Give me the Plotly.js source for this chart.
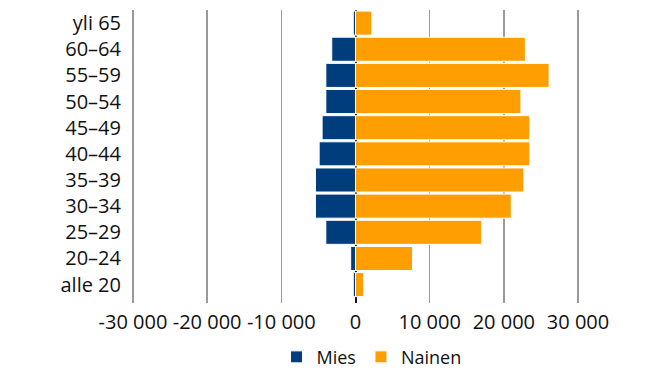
<!DOCTYPE html>
<html>
<head>
<meta charset="utf-8">
<script src="https://cdn.plot.ly/plotly-3.0.1.min.js"></script>
<style>html,body{margin:0;padding:0;background:#fff;}#chart{width:667px;height:374px;}</style>
</head>
<body>
<div id="chart"></div>
<script>
var categories = ["alle 20", "20–24", "25–29", "30–34", "35–39", "40–44", "45–49", "50–54", "55–59", "60–64", "yli 65"];
var mies = [-300, -650, -4000, -5400, -5400, -4900, -4500, -4000, -4000, -3200, -300];
var nainen = [1100, 7700, 17000, 21000, 22700, 23500, 23500, 22300, 26100, 22900, 2200];
var tickVals = [-30000, -20000, -10000, 0, 10000, 20000, 30000];
var tickText = ["-30 000", "-20 000", "-10 000", "0", "10 000", "20 000", "30 000"];

var font = {family: "Open Sans, Noto Sans, sans-serif", size: 20, color: "#111"};

var traces = [
  {type: "bar", orientation: "h", name: "Mies", y: categories, x: mies,
   marker: {color: "#003d7c", line: {color: "#ffffff", width: 1}}},
  {type: "bar", orientation: "h", name: "Nainen", y: categories, x: nainen,
   marker: {color: "#ff9e00", line: {color: "#ffffff", width: 1}}}
];

var layout = {
  width: 667, height: 374,
  margin: {l: 130, r: 86, t: 10, b: 71},
  paper_bgcolor: "#fff", plot_bgcolor: "#fff",
  font: font,
  barmode: "relative",
  bargap: 0.08,
  showlegend: true,
  legend: {orientation: "h", xref: "container", x: 0.557, xanchor: "center",
           yref: "container", y: 0.045, yanchor: "middle",
           font: {family: font.family, size: 18, color: "#111"}, tracegroupgap: 0},
  xaxis: {range: [-30400, 30400], tickvals: tickVals, ticktext: tickText,
          showgrid: true, gridcolor: "#9a9a9a", gridwidth: 1.3, zeroline: false,
          showline: false, ticks: "", ticklabelstandoff: 5, tickfont: font},
  xaxis2: {overlaying: "x", matches: "x", anchor: "y", layer: "above traces",
           showgrid: false, zeroline: true, zerolinecolor: "#111", zerolinewidth: 2,
           showticklabels: false, ticks: "", showline: false},
  yaxis: {type: "category", categoryorder: "array", categoryarray: categories,
          showgrid: false, zeroline: false, showline: false, ticks: "",
          ticklabelstandoff: 8, tickfont: font}
};

// Invisible trace to activate the overlay axis carrying the zero line
traces.push({type: "scatter", x: [0], y: [categories[0]], xaxis: "x2", mode: "markers",
             marker: {opacity: 0}, showlegend: false, hoverinfo: "skip"});

Plotly.newPlot("chart", traces, layout, {displayModeBar: false, staticPlot: true});
</script>
</body>
</html>
